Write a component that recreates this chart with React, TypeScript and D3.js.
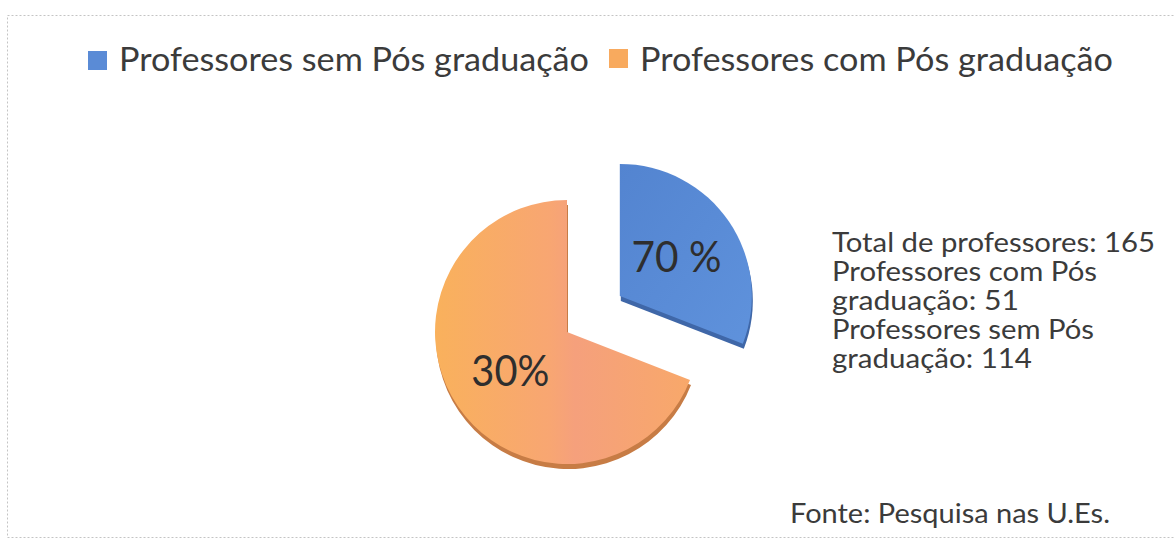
import React, { useEffect, useRef } from "react";
import * as d3 from "d3";

const categories = ["Professores sem Pós graduação", "Professores com Pós graduação"];
const sliceValues = [51, 114];
const sliceLabels = ["70 %", "30%"];
const colors = ["#5a8bd6", "#f8aa5e"];
const infoLines = [
  "Total de professores: 165",
  "Professores com Pós",
  "graduação: 51",
  "Professores sem Pós",
  "graduação: 114",
];
const sourceText = "Fonte: Pesquisa nas U.Es.";

const Chart = () => {
  const ref = useRef<SVGSVGElement>(null);

  useEffect(() => {
    const width = 1175;
    const height = 542;
    const font = "Lato, 'Open Sans', sans-serif";
    const textColor = "#3b3b3b";

    const svg = d3.select(ref.current).attr("width", width).attr("height", height);
    svg.selectAll("*").remove();

    svg.append("rect").attr("width", width).attr("height", height).attr("fill", "#fff");
    svg
      .append("rect")
      .attr("x", 7.5)
      .attr("y", 15.5)
      .attr("width", 1180)
      .attr("height", 522)
      .attr("fill", "none")
      .attr("stroke", "#c4c4c4")
      .attr("stroke-dasharray", "2,2");

    // gradients
    const defs = svg.append("defs");
    const og = defs.append("linearGradient").attr("id", "og").attr("x1", "0").attr("x2", "1").attr("y1", "0").attr("y2", "0");
    og.append("stop").attr("offset", "0").attr("stop-color", "#f9b15c");
    og.append("stop").attr("offset", "0.45").attr("stop-color", "#f8a672");
    og.append("stop").attr("offset", "0.55").attr("stop-color", "#f5a07c");
    og.append("stop").attr("offset", "1").attr("stop-color", "#f8a86a");
    const bg = defs.append("linearGradient").attr("id", "bg").attr("x1", "0").attr("x2", "1").attr("y1", "0").attr("y2", "1");
    bg.append("stop").attr("offset", "0").attr("stop-color", "#5384d0");
    bg.append("stop").attr("offset", "1").attr("stop-color", "#5f92dc");
    const fills = ["url(#bg)", "url(#og)"];
    const sides = ["#3f67a8", "#c77c45"];

    // legend
    const legendX = [88, 609];
    const legendW = [470, 473];
    const lg = svg.append("g");
    categories.forEach((c, i) => {
      lg.append("rect")
        .attr("x", legendX[i])
        .attr("y", 51 - i * 2)
        .attr("width", 19)
        .attr("height", 19)
        .attr("fill", colors[i]);
      lg.append("text")
        .attr("x", legendX[i] + 31)
        .attr("y", 71)
        .attr("font-family", font)
        .attr("font-size", 33)
        .attr("fill", textColor)
        .attr("textLength", legendW[i])
        .attr("lengthAdjust", "spacingAndGlyphs")
        .text(c);
    });

    // pie
    const cx = 567;
    const cy = 332;
    const r = 132;
    const explode = 64;
    const pie = d3.pie<number>().sort(null)(sliceValues);
    const arc = d3.arc<d3.PieArcDatum<number>>().innerRadius(0).outerRadius(r);

    const g = svg.append("g").attr("transform", `translate(${cx},${cy})`);
    const slices = g
      .selectAll("g.slice")
      .data(pie)
      .join("g")
      .attr("class", "slice")
      .attr("transform", (d, i) => {
        if (i !== 0) return "";
        const a = (d.startAngle + d.endAngle) / 2;
        return `translate(${Math.sin(a) * explode},${-Math.cos(a) * explode})`;
      });

    slices
      .append("path")
      .attr("d", arc)
      .attr("transform", "translate(1,5)")
      .attr("fill", (d, i) => sides[i]);
    slices
      .append("path")
      .attr("d", arc)
      .attr("fill", (d, i) => fills[i]);

    slices
      .append("text")
      .attr("transform", (d) => {
        const a = (d.startAngle + d.endAngle) / 2;
        const rr = r * 0.52;
        return `translate(${Math.sin(a) * rr},${-Math.cos(a) * rr})`;
      })
      .attr("text-anchor", "middle")
      .attr("dy", "0.36em")
      .attr("font-family", font)
      .attr("font-size", 42)
      .attr("fill", "#2e2e2e")
      .attr("textLength", (d, i) => (i === 0 ? 90 : 78))
      .attr("lengthAdjust", "spacingAndGlyphs")
      .text((d, i) => sliceLabels[i]);

    // info block
    const infoW = [323, 265, 187, 262, 200];
    svg
      .append("g")
      .selectAll("text")
      .data(infoLines)
      .join("text")
      .attr("x", 832)
      .attr("y", (d, i) => 252 + i * 29)
      .attr("font-family", font)
      .attr("font-size", 26)
      .attr("fill", textColor)
      .attr("textLength", (d, i) => infoW[i])
      .attr("lengthAdjust", "spacingAndGlyphs")
      .text((d) => d);

    svg
      .append("text")
      .attr("x", 790)
      .attr("y", 523)
      .attr("font-family", font)
      .attr("font-size", 26)
      .attr("fill", textColor)
      .attr("textLength", 320)
      .attr("lengthAdjust", "spacingAndGlyphs")
      .text(sourceText);
  }, []);

  return <svg ref={ref} style={{ position: "absolute", left: 0, top: 0 }}></svg>;
};

export default function App() {
  return <Chart />;
}
